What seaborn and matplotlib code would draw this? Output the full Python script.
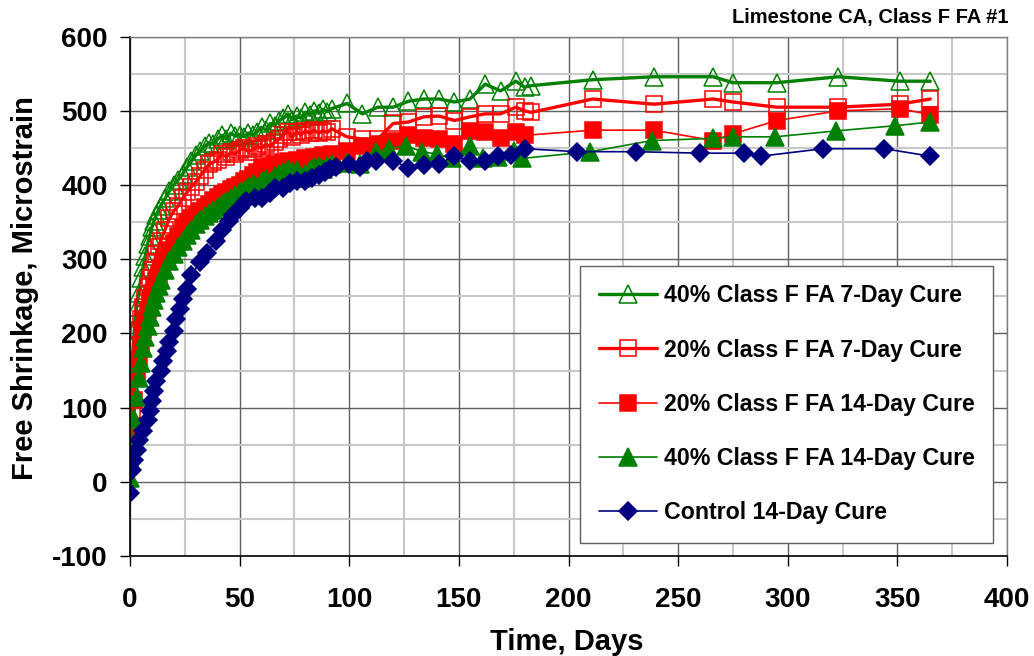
import matplotlib
matplotlib.use('Agg')
from matplotlib import pyplot as plt
from matplotlib.ticker import MultipleLocator
import seaborn as sns

# 测量龄期 (days) - the fly ash mixes were read almost daily early on
days_early = [0, 1, 2, 3, 4, 5, 6, 7, 8, 9, 10, 11, 12, 13, 14,
              16, 18, 20, 22, 24, 26, 28, 30, 32, 34, 36, 38, 40, 42, 44,
              46, 48, 50, 52, 54, 56, 58, 60, 62, 64, 66, 68, 70, 72, 74,
              76, 78, 80, 82, 84, 86, 88, 90, 92]

# 40% Class F FA 7-Day Cure
days_40_7 = days_early + [99, 106, 113, 120, 127, 134, 141, 148, 155, 162, 169, 176, 180, 183,
                          211, 239, 266, 275, 295, 323, 351, 365]
shr_40_7 = [90, 160, 205, 235, 255, 275, 290, 305, 320, 332, 343, 352, 360, 366, 372,
            382, 392, 400, 407, 415, 424, 432, 440, 446, 452,
            457, 455, 462, 467, 462, 470, 466, 468, 465, 470,
            467, 472, 478, 474, 483, 480, 487, 490, 496, 488,
            493, 490, 498, 494, 500, 497, 502, 499, 503,
            510, 496, 505, 505, 513, 516, 516, 512, 516, 536, 527, 540, 532, 534,
            542, 546, 546, 538, 538, 546, 540, 540]

# 20% Class F FA 7-Day Cure
days_20_7 = days_early + [99, 106, 113, 120, 127, 134, 141, 148, 155, 162, 169, 176, 180, 183,
                          211, 239, 266, 275, 295, 323, 351, 365]
shr_20_7 = [35, 95, 150, 185, 205, 220, 235, 248, 262, 275, 285, 296, 307, 316, 325,
            340, 355, 365, 372, 382, 390, 398, 404, 412, 420,
            428, 431, 434, 442, 438, 444, 442, 447, 450, 445,
            448, 452, 450, 455, 452, 458, 462, 468, 472, 465,
            472, 468, 473, 470, 474, 470, 473, 471, 476,
            465, 462, 462, 483, 485, 492, 493, 487, 492, 496, 496, 505, 500, 498,
            516, 509, 516, 512, 505, 505, 509, 516]

# 20% Class F FA 14-Day Cure
days_20_14 = days_early + [99, 106, 113, 120, 127, 134, 141, 148, 155, 162, 169, 176, 180,
                           211, 239, 266, 275, 295, 323, 351, 365]
shr_20_14 = [25, 75, 110, 140, 165, 185, 205, 220, 232, 245, 255, 264, 272, 280, 288,
             300, 312, 322, 332, 342, 350, 356, 360, 365, 370,
             375, 380, 384, 388, 390, 395, 397, 400, 405, 408,
             414, 418, 424, 420, 426, 428, 425, 430, 432, 428,
             434, 432, 436, 434, 438, 436, 440, 438, 442,
             446, 452, 455, 460, 467, 464, 462, 456, 473, 471, 464, 471, 467,
             474, 474, 460, 469, 487, 500, 503, 495]

# 40% Class F FA 14-Day Cure
days_40_14 = days_early + [99, 105, 112, 118, 126, 133, 140, 147, 155, 161, 168, 175, 179,
                           210, 238, 266, 275, 294, 322, 349, 365]
shr_40_14 = [5, 50, 85, 115, 140, 160, 180, 195, 210, 222, 235, 245, 255, 264, 272,
             285, 297, 307, 316, 325, 333, 340, 347, 353, 358,
             362, 366, 370, 374, 378, 382, 386, 390, 393, 397,
             402, 398, 405, 408, 404, 412, 415, 418, 422, 417,
             420, 410, 415, 420, 424, 426, 422, 426, 428,
             430, 429, 445, 449, 453, 445, 442, 436, 453, 436, 438, 446, 436,
             445, 460, 463, 465, 465, 473, 480, 485]

# Control 14-Day Cure
days_ctrl = [0, 1, 2, 3, 4, 6, 8, 9, 10, 11, 12, 14, 15, 17, 18, 20, 21, 23, 24, 26,
             28, 32, 35, 39, 42, 45, 47, 50, 53, 57, 60, 64, 66, 70, 73, 76, 80, 83, 86, 89,
             91, 94, 100, 105, 108, 112, 120, 127, 134, 141, 148, 155, 162, 168, 174, 180,
             204, 231, 260, 280, 288, 316, 344, 365]
shr_ctrl = [-15, 16, 29, 43, 56, 69, 83, 96, 109, 123, 136, 149, 163, 176, 189, 203, 220, 233, 247, 260,
            279, 296, 309, 325, 339, 352, 360, 369, 379, 383, 383, 389, 396, 396, 403, 405, 405, 409, 413, 418,
            422, 425, 428, 425, 432, 432, 433, 423, 427, 429, 439, 432, 432, 439, 440, 449,
            445, 445, 443, 443, 439, 449, 449, 439]

sns.set_style('white')
plt.rcParams['font.family'] = ['Liberation Sans', 'DejaVu Sans']
plt.rcParams['font.weight'] = 'bold'
plt.rcParams['axes.unicode_minus'] = False  # 负号用普通连字符
plt.rcParams['text.color'] = 'black'
plt.rcParams['xtick.color'] = 'black'
plt.rcParams['ytick.color'] = 'black'

fig = plt.figure(figsize=(10.34, 6.56), dpi=100)
ax = fig.add_axes([130 / 1034, 1 - 556 / 656, 877 / 1034, 519.3 / 656])

# label, x, y, color, marker, face, size, line width
series = [
    ('40% Class F FA 7-Day Cure', days_40_7, shr_40_7, 'green', '^', 'none', 13, 2.4),
    ('20% Class F FA 7-Day Cure', days_20_7, shr_20_7, 'red', 's', 'none', 11.5, 2.4),
    ('20% Class F FA 14-Day Cure', days_20_14, shr_20_14, 'red', 's', 'red', 11.5, 1.2),
    ('40% Class F FA 14-Day Cure', days_40_14, shr_40_14, 'green', '^', 'green', 12.5, 1.2),
    ('Control 14-Day Cure', days_ctrl, shr_ctrl, 'navy', 'D', 'navy', 9.2, 1.2),
]
for label, x, y, c, m, fc, ms, lw in series:
    sns.lineplot(x=x, y=y, ax=ax, color=c, marker=m, markersize=ms,
                 markerfacecolor=fc, markeredgecolor=c, markeredgewidth=1.1,
                 linewidth=lw, label=label, errorbar=None, sort=False)

ax.set_xlim(0, 400)
ax.set_ylim(-100, 600)
ax.xaxis.set_major_locator(MultipleLocator(50))
ax.xaxis.set_minor_locator(MultipleLocator(25))
ax.yaxis.set_major_locator(MultipleLocator(100))
ax.yaxis.set_minor_locator(MultipleLocator(50))
ax.set_axisbelow(True)
ax.grid(which='major', color='#606060', linewidth=1.0)
ax.grid(which='minor', color='#c8c8c8', linewidth=1.5)
ax.tick_params(which='major', direction='out', length=7, width=1, labelsize=20,
               left=True, bottom=True, color='black')
ax.tick_params(axis='y', pad=9)
ax.tick_params(axis='x', pad=15)
ax.tick_params(which='minor', length=0)
for s in ['left', 'bottom']:
    ax.spines[s].set_color('black')
    ax.spines[s].set_linewidth(1.2)
for s in ['top', 'right']:
    ax.spines[s].set_color('#808080')
    ax.spines[s].set_linewidth(1.0)
ax.set_xlabel('')
ax.set_ylabel('')

fig.text(567 / 1034, 1 - 642 / 656, 'Time, Days', ha='center', va='center', fontsize=21, fontweight='bold')
fig.text(25 / 1034, 1 - 288 / 656, 'Free Shrinkage, Microstrain', ha='center', va='center',
         rotation=90, fontsize=21, fontweight='bold')
fig.text(1008 / 1034, 1 - 18 / 656, 'Limestone CA, Class F FA #1', ha='right', va='center',
         fontsize=14.5, fontweight='bold')

leg = ax.legend(loc='lower right', bbox_to_anchor=(0.984, 0.025), borderaxespad=0,
                prop={'size': 16.7, 'weight': 'bold'}, frameon=True, fancybox=False,
                framealpha=1, edgecolor='#606060', labelspacing=1.35, handlelength=2.5,
                handletextpad=0.3, borderpad=0.8, numpoints=1)
leg.get_frame().set_linewidth(1.0)

fig.savefig('out.png', dpi=100)
